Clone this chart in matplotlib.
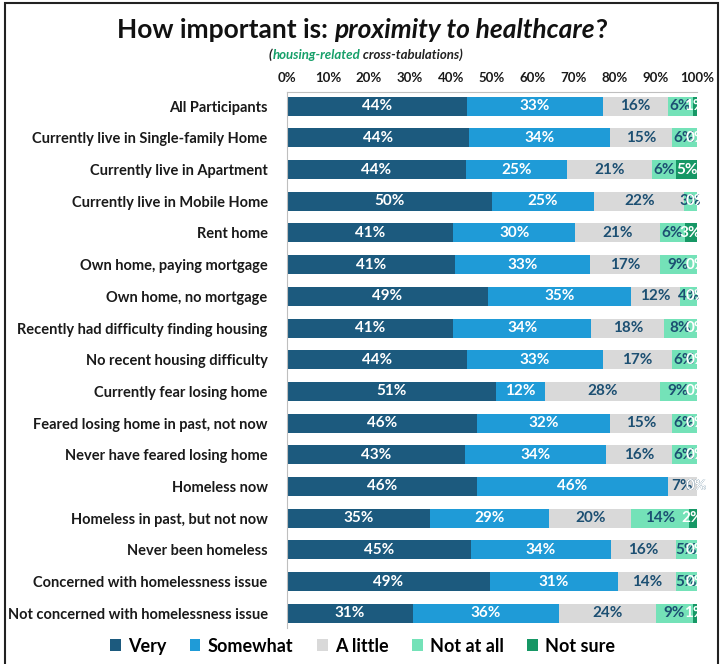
import numpy as np
import matplotlib.pyplot as plt
from matplotlib.patches import Rectangle

plt.rcParams['font.family'] = ['Lato', 'DejaVu Sans']

categories = [
    "All Participants",
    "Currently live in Single-family Home",
    "Currently live in Apartment",
    "Currently live in Mobile Home",
    "Rent home",
    "Own home, paying mortgage",
    "Own home, no mortgage",
    "Recently had difficulty finding housing",
    "No recent housing difficulty",
    "Currently fear losing home",
    "Feared losing home in past, not now",
    "Never have feared losing home",
    "Homeless now",
    "Homeless in past, but not now",
    "Never been homeless",
    "Concerned with homelessness issue",
    "Not concerned with homelessness issue",
]
series = ["Very", "Somewhat", "A little", "Not at all", "Not sure"]
very = [44, 44, 44, 50, 41, 41, 49, 41, 44, 51, 46, 43, 46, 35, 45, 49, 31]
somewhat = [33, 34, 25, 25, 30, 33, 35, 34, 33, 12, 32, 34, 46, 29, 34, 31, 36]
a_little = [16, 15, 21, 22, 21, 17, 12, 18, 17, 28, 15, 16, 7, 20, 16, 14, 24]
not_at_all = [6, 6, 6, 3, 6, 9, 4, 8, 6, 9, 6, 6, 0, 14, 5, 5, 9]
not_sure = [1, 0, 5, 0, 3, 0, 0, 0, 0, 0, 0, 0, 0, 2, 0, 0, 1]

colors = ["#1c5a7e", "#1f9bd7", "#d9d9d9", "#74e2b8", "#169765"]
label_colors = ["white", "white", "#1c4f72", "#1c4f72", "white"]

data = np.array([very, somewhat, a_little, not_at_all, not_sure], dtype=float)
# rounded percentages: scale each row so the stack spans the full 100%
widths_pct = data / data.sum(axis=0) * 100

fig = plt.figure(figsize=(7.25, 6.64), dpi=100)
ax = fig.add_axes([0.396, 0.054, 0.565, 0.807])

y = np.arange(len(categories))
left = np.zeros(len(categories))
for i, name in enumerate(series):
    ax.barh(y, widths_pct[i], left=left, height=0.6, color=colors[i], label=name)
    for j in range(len(categories)):
        w = widths_pct[i, j]
        ax.text(left[j] + w / 2, y[j], f"{int(data[i, j])}%", ha="center", va="center",
                fontsize=11, fontweight="bold", color=label_colors[i], clip_on=False)
    left += widths_pct[i]

ax.set_xlim(0, 100)
ax.set_ylim(len(categories) - 1 + 0.47, -0.44)
ax.set_yticks(y)
ax.set_yticklabels(categories, fontsize=10.5, fontweight="bold", color="#1a1a1a")
ax.set_xticks(np.arange(0, 101, 10))
ax.set_xticklabels([f"{t}%" for t in range(0, 101, 10)], fontsize=9.5, fontweight="bold", color="#1a1a1a")
ax.xaxis.tick_top()
ax.tick_params(axis="both", length=0, pad=6)
ax.tick_params(axis="y", pad=14)
for s in ["right", "bottom"]:
    ax.spines[s].set_visible(False)
for s in ["top", "left"]:
    ax.spines[s].set_color("#bfbfbf")

# title in pieces
renderer = fig.canvas.get_renderer()
pieces = [("How important is: ", "normal"),
          ("proximity to healthcare", "italic"),
          ("?", "normal")]
texts = []
for s, style in pieces:
    t = fig.text(0, 0.955, s, fontsize=19, fontweight="bold", style=style, color="#111111",
                 ha="left", va="center")
    texts.append(t)
widths = [t.get_window_extent(renderer).width for t in texts]
x = 362 - sum(widths) / 2
for t, w in zip(texts, widths):
    t.set_x(x / 725)
    x += w

pieces = [("(", "#222222"), ("housing-related", "#17a06a"), (" cross-tabulations)", "#222222")]
texts = []
for s, c in pieces:
    t = fig.text(0, 0.917, s, fontsize=9.5, fontweight="bold", style="italic", color=c,
                 ha="left", va="center")
    texts.append(t)
widths = [t.get_window_extent(renderer).width for t in texts]
x = 366 - sum(widths) / 2
for t, w in zip(texts, widths):
    t.set_x(x / 725)
    x += w

fig.legend(loc="center", bbox_to_anchor=(0.5, 0.027), ncol=5, frameon=False,
           prop={"size": 13, "weight": "bold"}, handlelength=0.6, handleheight=0.6,
           handletextpad=0.4, columnspacing=1.3)

fig.patches.append(Rectangle((0.007, -0.01), 0.983, 1.005, transform=fig.transFigure,
                             fill=False, edgecolor="#222222", linewidth=1.5))

fig.savefig("out.png", dpi=100)
